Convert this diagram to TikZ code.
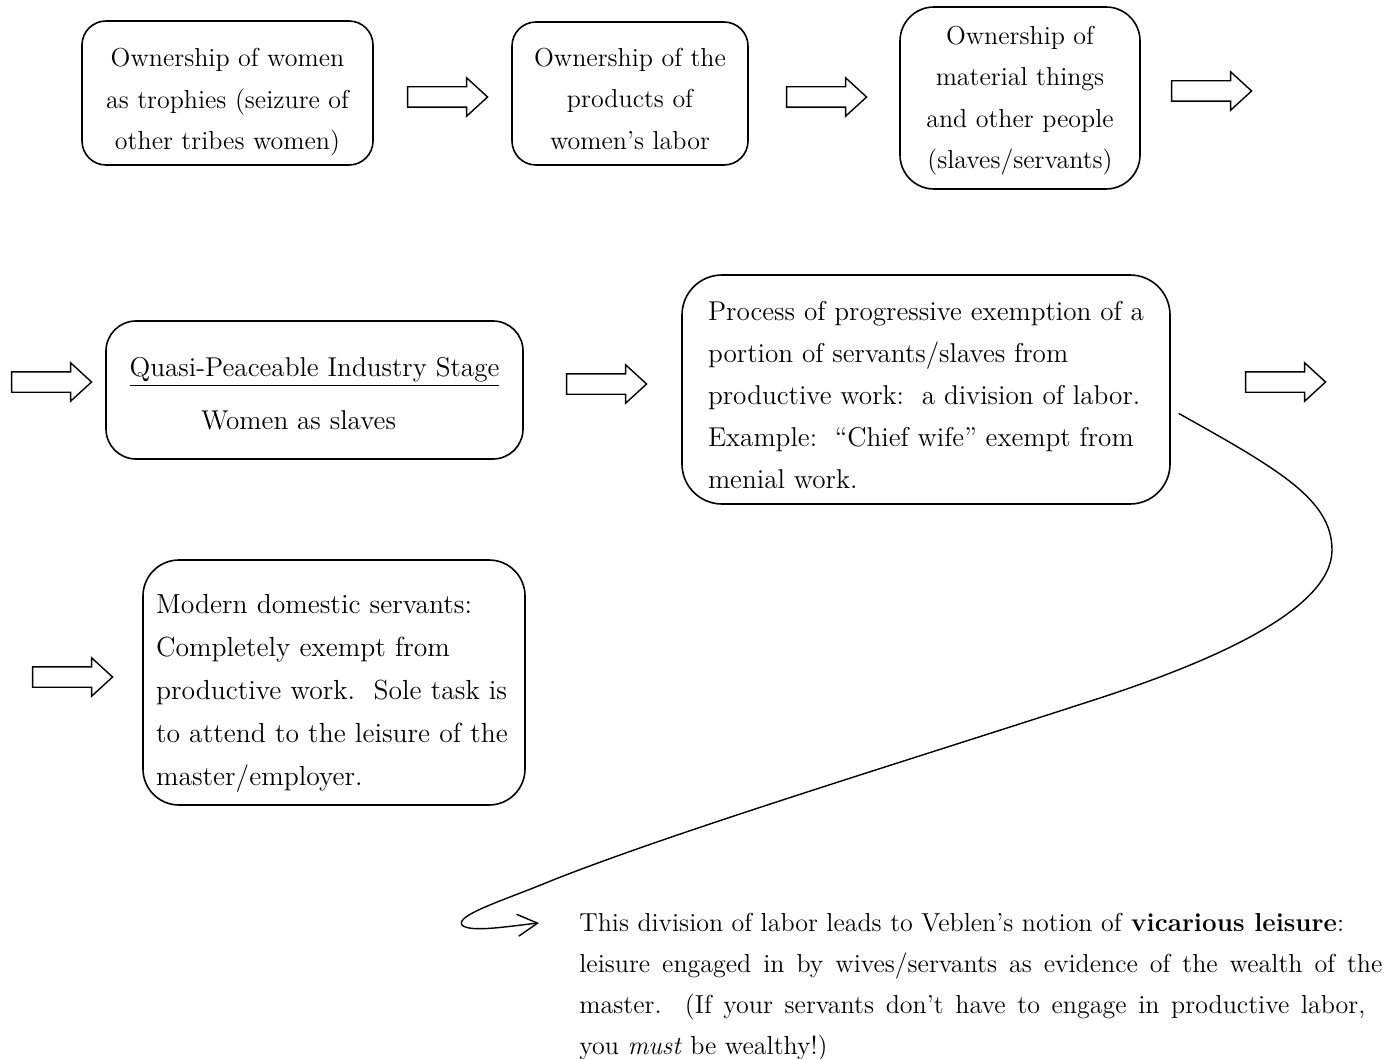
\documentclass[tikz,border=0pt]{standalone}
\usepackage{tikz}
\usetikzlibrary{shapes.arrows, arrows.meta, calc, positioning}
\tikzset{
    stageBox/.style={draw, line width=0.8pt, rounded corners=12pt, align=center, inner sep=0pt},
    blockArrow/.style={draw, line width=0.7pt, single arrow, inner xsep=0pt, inner ysep=4.75pt, minimum height=40pt, single arrow head extend=4.5pt, single arrow tip angle=85},
    leadsTo/.style={line width=0.7pt, -{Straight Barb[length=10pt, width=11pt]}},
}
% lowers the text inside a box
\newcommand{\dropTo}[1]{\rule{0pt}{#1}}
\begin{document}
\begin{tikzpicture}[x=0.5pt, y=-0.5pt, font=\fontsize{13}{20.75}\selectfont]
    \useasboundingbox (0,0) rectangle (1398,1059);

    % first row
    \node[stageBox, minimum width=145.5pt, minimum height=72pt] (ownWomen) at (227.5,93) {\dropTo{18.5pt}Ownership of women\\as trophies (seizure of\\other tribes women)};
    \node[stageBox, minimum width=118pt, minimum height=71.5pt] (ownLabor) at (630,93.5) {\dropTo{14.5pt}Ownership of the\\products of\\women's labor};
    \node[stageBox, minimum width=120pt, minimum height=91pt, rounded corners=17pt] (ownThings) at (1020,98) {\dropTo{12pt}Ownership of\\material things\\and other people\\(slaves/servants)};

    % second row
    \node[stageBox, minimum width=208.5pt, minimum height=69pt, rounded corners=15pt, font=\fontsize{13.6}{21}\selectfont] (quasiStage) at (314.5,390) {\dropTo{13.5pt}\underline{Quasi-Peaceable Industry Stage}\\[5.5pt]\hspace*{-16pt}Women as slaves};
    \node[stageBox, minimum width=244pt, minimum height=114.5pt, rounded corners=20pt, align=left, font=\fontsize{13.6}{21}\selectfont] (exemption) at (926,389.5) {\dropTo{15.4pt}Process of progressive exemption of a\\portion of servants/slaves from\\productive work:\ \ a division of labor.\\Example:\ \ ``Chief wife'' exempt from\\menial work.};

    % third row
    \node[stageBox, minimum width=191pt, minimum height=122.5pt, rounded corners=18pt, text width=178pt, align=left, font=\fontsize{13.8}{21.5}\selectfont] (domestic) at (334,682.5) {\dropTo{20.6pt}Modern domestic servants:\\Completely exempt from\\productive work.\ \ Sole task is\\to attend to the leisure of the\\master/employer.};

    \node[align=left, anchor=north west, inner sep=0pt, font=\fontsize{13}{20.5}\selectfont] (vicarious) at (579,913) {This division of labor leads to Veblen's notion of \textbf{vicarious leisure}:\\\makebox[401.5pt][s]{leisure engaged in by wives/servants as evidence of the wealth of the}\\\makebox[393pt][s]{master.\ \ (If your servants don't have to engage in productive labor,}\\you \emph{must} be wealthy!)};

    % block arrows
    \node[blockArrow] (stepWomenLabor) at (442,97) {};
    \node[blockArrow] (stepLaborThings) at (821,97) {};
    \node[blockArrow] (stepThingsOut) at (1206,91) {};
    \node[blockArrow] (stepInQuasi) at (46,382) {};
    \node[blockArrow] (stepQuasiExempt) at (601,384) {};
    \node[blockArrow] (stepExemptOut) at (1280,382) {};
    \node[blockArrow] (stepInDomestic) at (67,677) {};

    % curved pointer to the note
    \draw[leadsTo] ($(exemption.east)+(8,24)$) .. controls (1280,470) and (1332,500) .. (1332,550)
        .. controls (1332,610) and (1210,662) .. (1100,698)
        .. controls (900,763) and (680,830) .. (553,880)
        .. controls (505,900) and (455,915) .. (462,925)
        .. controls (470,933) and (510,926) .. ($(vicarious.north west)+(-40,10)$);

\end{tikzpicture}
\end{document}
